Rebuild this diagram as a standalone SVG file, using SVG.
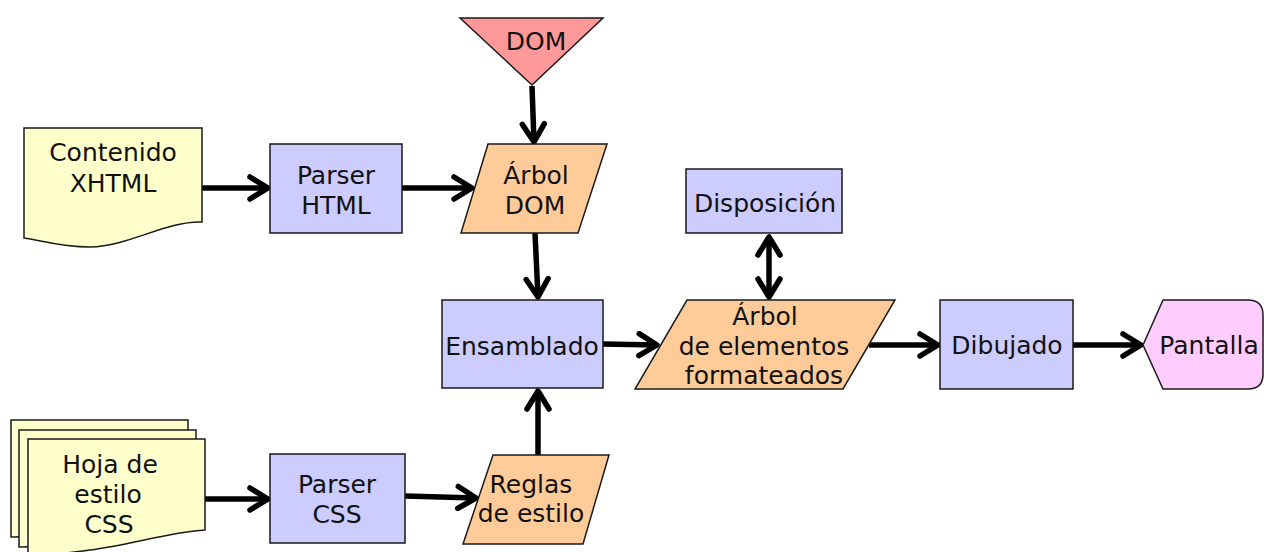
<svg xmlns="http://www.w3.org/2000/svg" width="1264" height="552" viewBox="0 0 1264 552">
<defs>
<style>
.s{stroke:#1a1a1a;stroke-width:1.5;stroke-linejoin:miter}
.doc{fill:#ffffcc}
.proc{fill:#ccccff}
.data{fill:#ffcc99}
.t{font-family:"DejaVu Sans","Verdana",sans-serif;font-size:25px;fill:#111;text-anchor:middle}
.c{stroke:#000;stroke-width:5.5;fill:none}
</style>
<marker id="ah" viewBox="-22 -14 26 28" refX="0" refY="0" markerWidth="26" markerHeight="28" markerUnits="userSpaceOnUse" orient="auto">
<path d="M-18,-11 L0,0 L-18,11" fill="none" stroke="#000" stroke-width="5.5" stroke-linecap="round" stroke-linejoin="round"/>
</marker>
<marker id="as" viewBox="-4 -14 26 28" refX="0" refY="0" markerWidth="26" markerHeight="28" markerUnits="userSpaceOnUse" orient="auto">
<path d="M18,-11 L0,0 L18,11" fill="none" stroke="#000" stroke-width="5.5" stroke-linecap="round" stroke-linejoin="round"/>
</marker>
<path id="sheet" d="M28,439 H205 V530 C170,532 130,545 90,550 C60,554 40,556 28,556 Z"/>
</defs>

<g id="connectors">
<line class="c" x1="202" y1="188" x2="268" y2="188" marker-end="url(#ah)"/>
<line class="c" x1="402" y1="188" x2="472" y2="188" marker-end="url(#ah)"/>
<line class="c" x1="532" y1="86" x2="534" y2="142" marker-end="url(#ah)"/>
<line class="c" x1="535" y1="233" x2="538" y2="297" marker-end="url(#ah)"/>
<line class="c" x1="538" y1="455" x2="538" y2="391" marker-end="url(#ah)"/>
<line class="c" x1="603" y1="344" x2="657" y2="345" marker-end="url(#ah)"/>
<line class="c" x1="769" y1="237" x2="769" y2="297" marker-start="url(#as)" marker-end="url(#ah)"/>
<line class="c" x1="869" y1="345" x2="938" y2="345" marker-end="url(#ah)"/>
<line class="c" x1="1073" y1="345" x2="1141" y2="345" marker-end="url(#ah)"/>
<line class="c" x1="205" y1="499" x2="268" y2="499" marker-end="url(#ah)"/>
<line class="c" x1="405" y1="496" x2="476" y2="498" marker-end="url(#ah)"/>
</g>

<g id="contenido">
<path class="s doc" d="M24,128 H202 V222 C165,221 130,246 90,247 C60,247 40,240 24,238 Z"/>
<text class="t" x="113" y="161">Contenido</text>
<text class="t" x="113" y="192">XHTML</text>
</g>

<g id="parser-html">
<rect class="s proc" x="270" y="144" width="132" height="89"/>
<text class="t" x="336" y="184">Parser</text>
<text class="t" x="336" y="214">HTML</text>
</g>

<g id="dom">
<polygon class="s" fill="#ff9999" points="460,18 603,18 532,85"/>
<text class="t" x="536" y="50">DOM</text>
</g>

<g id="arbol-dom">
<polygon class="s data" points="488,144 607,144 578,233 461,233"/>
<text class="t" x="536" y="184">Árbol</text>
<text class="t" x="535" y="214">DOM</text>
</g>

<g id="ensamblado">
<rect class="s proc" x="442" y="300" width="161" height="88"/>
<text class="t" x="522" y="355">Ensamblado</text>
</g>

<g id="disposicion">
<rect class="s proc" x="686" y="169" width="156" height="64"/>
<text class="t" x="765" y="212">Disposición</text>
</g>

<g id="arbol-elementos">
<polygon class="s data" points="687,300 895,300 843,389 635,389"/>
<text class="t" x="765" y="325">Árbol</text>
<text class="t" x="764" y="355">de elementos</text>
<text class="t" x="764" y="384">formateados</text>
</g>

<g id="dibujado">
<rect class="s proc" x="940" y="300" width="133" height="89"/>
<text class="t" x="1007" y="354">Dibujado</text>
</g>

<g id="pantalla">
<path class="s" fill="#ffccff" d="M1143,345 L1163,300 H1248 Q1263,300 1263,315 V374 Q1263,389 1248,389 H1163 Z"/>
<text class="t" x="1209" y="354">Pantalla</text>
</g>

<g id="hoja-estilo">
<use href="#sheet" class="s doc" transform="translate(-17,-19)"/>
<use href="#sheet" class="s doc" transform="translate(-9,-9)"/>
<use href="#sheet" class="s doc"/>
<text class="t" x="110" y="473">Hoja de</text>
<text class="t" x="108" y="503">estilo</text>
<text class="t" x="109" y="533">CSS</text>
</g>

<g id="parser-css">
<rect class="s proc" x="270" y="454" width="135" height="89"/>
<text class="t" x="337" y="493">Parser</text>
<text class="t" x="337" y="523">CSS</text>
</g>

<g id="reglas">
<polygon class="s data" points="493,455 609,455 583,544 463,544"/>
<text class="t" x="531" y="493">Reglas</text>
<text class="t" x="531" y="522">de estilo</text>
</g>
</svg>
